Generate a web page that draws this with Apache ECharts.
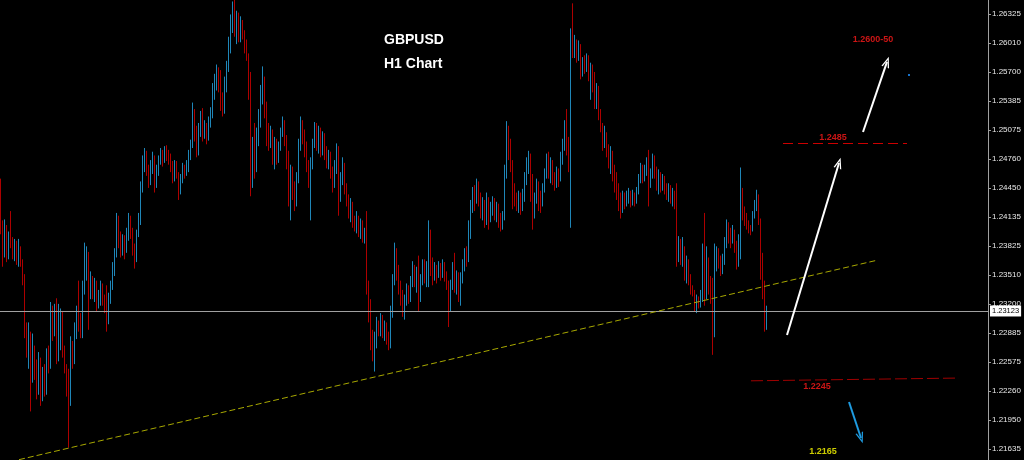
<!DOCTYPE html>
<html>
<head>
<meta charset="utf-8">
<title>GBPUSD H1</title>
<script src="https://cdn.jsdelivr.net/npm/echarts@6/dist/echarts.min.js"></script>
<style>
  html, body { margin: 0; padding: 0; background: #000; }
  #chart { width: 1024px; height: 460px; }
</style>
</head>
<body>
<div id="chart"></div>
<script>
// H1 bars, prices in pips (x 0.0001).
// open of every bar = close of the bar before it
const firstOpen = 12445
const closes = [
  12405,12385,12400,12375,12390,12385,12375,12385,12372,12380,
  12368,12350,12290,12275,12290,12235,12270,12245,12230,12260,
  12225,12240,12230,12268,12255,12300,12290,12310,12262,12290,
  12300,12270,12250,12225,12215,12268,12260,12288,12310,12300,
  12290,12335,12360,12372,12330,12345,12335,12342,12318,12328,
  12338,12325,12315,12300,12325,12340,12358,12375,12400,12390,
  12378,12390,12380,12395,12412,12398,12380,12368,12395,12412,
  12445,12470,12482,12465,12450,12468,12478,12450,12462,12475,
  12482,12475,12486,12480,12478,12470,12458,12470,12460,12440,
  12455,12465,12460,12468,12480,12492,12525,12505,12490,12510,
  12520,12505,12512,12500,12518,12528,12545,12560,12572,12555,
  12540,12530,12555,12575,12598,12625,12638,12618,12630,12608,
  12625,12612,12598,12588,12560,12450,12490,12465,12500,12520,
  12545,12560,12530,12510,12495,12505,12482,12495,12478,12490,
  12505,12515,12498,12480,12450,12465,12445,12430,12455,12490,
  12515,12500,12490,12470,12455,12470,12492,12510,12495,12505,
  12490,12500,12482,12472,12480,12462,12450,12470,12488,12440,
  12455,12470,12445,12432,12420,12428,12410,12402,12412,12398,
  12405,12392,12395,12340,12320,12290,12265,12282,12300,12292,
  12305,12290,12298,12285,12275,12310,12345,12372,12360,12340,
  12328,12315,12325,12335,12328,12345,12360,12348,12355,12330,
  12345,12362,12350,12360,12398,12365,12350,12360,12352,12362,
  12355,12362,12350,12342,12318,12340,12355,12340,12350,12338,
  12348,12362,12375,12370,12395,12425,12440,12430,12448,12435,
  12420,12428,12415,12425,12412,12422,12430,12418,12425,12410,
  12405,12415,12460,12508,12495,12470,12450,12435,12428,12436,
  12425,12438,12455,12470,12480,12455,12420,12435,12448,12438,
  12428,12445,12460,12475,12462,12470,12458,12450,12462,12455,
  12478,12492,12510,12495,12480,12610,12595,12602,12590,12598,
  12570,12580,12575,12585,12568,12575,12560,12545,12550,12528,
  12510,12495,12505,12488,12475,12482,12465,12455,12445,12435,
  12425,12438,12428,12435,12440,12430,12438,12432,12442,12455,
  12468,12458,12465,12472,12450,12460,12475,12462,12452,12460,
  12448,12455,12445,12438,12445,12435,12440,12430,12370,12385,
  12372,12378,12355,12365,12348,12338,12332,12320,12325,12320,
  12330,12368,12330,12365,12345,12335,12290,12370,12378,12365,
  12360,12368,12385,12405,12395,12390,12398,12385,12370,12382,
  12440,12420,12412,12405,12402,12398,12415,12428,12435,12410,
  12370,12340,12300,12312.3
]
const highs = [
  12455,12410,12411,12405,12398,12420,12392,12390,12388,12390,
  12382,12368,12352,12300,12300,12264,12288,12275,12260,12268,
  12262,12252,12255,12272,12275,12322,12318,12320,12326,12320,
  12315,12312,12275,12255,12250,12285,12280,12300,12318,12345,
  12310,12345,12386,12382,12376,12355,12350,12348,12345,12335,
  12345,12342,12330,12340,12332,12345,12365,12380,12418,12415,
  12398,12395,12394,12402,12418,12415,12402,12385,12400,12418,
  12452,12480,12488,12485,12470,12475,12484,12480,12470,12480,
  12488,12486,12490,12491,12486,12482,12474,12475,12474,12462,
  12460,12472,12470,12475,12486,12497,12537,12530,12512,12515,
  12528,12531,12518,12515,12522,12532,12558,12568,12578,12575,
  12572,12548,12565,12582,12608,12632,12646,12648,12636,12634,
  12630,12626,12615,12605,12590,12570,12500,12515,12510,12530,
  12556,12576,12565,12538,12515,12512,12508,12500,12498,12495,
  12510,12522,12518,12502,12485,12470,12468,12452,12462,12498,
  12522,12518,12508,12495,12475,12478,12498,12516,12515,12512,
  12510,12506,12504,12490,12486,12484,12468,12475,12493,12490,
  12462,12478,12472,12450,12438,12434,12430,12415,12420,12415,
  12412,12410,12402,12420,12345,12325,12292,12290,12306,12302,
  12310,12308,12302,12300,12290,12318,12352,12386,12380,12362,
  12345,12335,12330,12342,12340,12350,12366,12362,12360,12372,
  12352,12368,12368,12366,12410,12400,12370,12365,12362,12366,
  12364,12368,12365,12355,12345,12346,12365,12375,12356,12354,
  12354,12368,12380,12382,12410,12432,12446,12448,12455,12452,
  12440,12435,12432,12440,12435,12430,12436,12434,12430,12428,
  12418,12420,12470,12517,12512,12498,12475,12448,12440,12442,
  12440,12444,12462,12478,12485,12482,12460,12440,12455,12452,
  12442,12450,12466,12482,12484,12478,12475,12462,12468,12466,
  12484,12498,12518,12530,12500,12617,12644,12610,12605,12604,
  12600,12586,12588,12590,12588,12580,12578,12570,12558,12555,
  12530,12515,12512,12505,12492,12490,12485,12470,12462,12450,
  12440,12442,12440,12442,12445,12442,12443,12440,12446,12460,
  12472,12470,12470,12478,12486,12466,12482,12480,12468,12465,
  12462,12460,12458,12450,12450,12448,12445,12442,12450,12393,
  12390,12392,12382,12372,12368,12352,12340,12335,12330,12328,
  12335,12385,12418,12382,12370,12350,12348,12385,12382,12380,
  12372,12374,12392,12411,12408,12402,12405,12400,12388,12395,
  12467,12445,12425,12418,12410,12405,12420,12432,12443,12438,
  12412,12375,12345,12318
]
const lows = [
  12395,12360,12370,12365,12368,12380,12368,12366,12362,12360,
  12360,12340,12283,12262,12250,12204,12236,12238,12217,12222,
  12210,12215,12220,12222,12245,12250,12280,12285,12255,12258,
  12270,12262,12245,12220,12165,12210,12250,12255,12282,12290,
  12283,12283,12330,12345,12292,12325,12325,12322,12312,12315,
  12318,12318,12310,12290,12298,12320,12335,12350,12370,12380,
  12370,12372,12368,12375,12388,12390,12372,12358,12365,12392,
  12405,12440,12462,12458,12445,12448,12460,12440,12445,12458,
  12470,12468,12472,12474,12470,12462,12450,12452,12455,12432,
  12438,12450,12455,12458,12462,12475,12488,12495,12478,12480,
  12500,12495,12498,12492,12496,12510,12520,12540,12550,12548,
  12528,12522,12525,12548,12570,12590,12612,12608,12600,12602,
  12602,12605,12590,12582,12540,12436,12445,12455,12462,12490,
  12510,12535,12520,12490,12485,12488,12470,12465,12470,12472,
  12485,12500,12490,12465,12425,12410,12432,12420,12425,12450,
  12485,12492,12478,12462,12445,12410,12465,12488,12485,12482,
  12478,12480,12475,12466,12465,12455,12440,12445,12460,12415,
  12430,12448,12438,12425,12412,12408,12402,12398,12396,12392,
  12390,12386,12385,12330,12300,12270,12258,12247,12272,12285,
  12285,12283,12280,12276,12270,12272,12305,12340,12345,12330,
  12318,12306,12303,12318,12320,12322,12338,12338,12332,12312,
  12322,12340,12342,12338,12338,12350,12340,12345,12342,12348,
  12345,12348,12344,12335,12295,12312,12335,12332,12330,12322,
  12318,12342,12355,12360,12365,12390,12418,12420,12428,12425,
  12412,12410,12402,12405,12400,12408,12415,12410,12408,12402,
  12398,12400,12410,12455,12475,12462,12422,12425,12420,12418,
  12416,12420,12430,12448,12460,12430,12400,12412,12428,12420,
  12418,12425,12440,12455,12455,12450,12448,12442,12445,12446,
  12452,12470,12485,12480,12462,12402,12585,12585,12580,12582,
  12562,12565,12568,12570,12560,12540,12548,12530,12530,12518,
  12505,12485,12488,12478,12466,12460,12452,12440,12432,12420,
  12412,12418,12422,12425,12428,12424,12426,12425,12428,12438,
  12450,12450,12452,12458,12425,12445,12455,12455,12442,12438,
  12440,12442,12438,12432,12430,12428,12425,12422,12360,12365,
  12362,12360,12345,12342,12340,12330,12328,12312,12310,12315,
  12316,12322,12318,12325,12330,12320,12265,12284,12355,12358,
  12350,12352,12362,12380,12385,12380,12385,12375,12357,12360,
  12368,12410,12404,12400,12396,12394,12398,12412,12420,12405,
  12346,12325,12290,12292
]

const slotCount = 494          // bars plus the empty shift area on the right
const priceMin = 1.215164
const priceMax = 1.264759
const tickLabels = [
  '1.21635', '1.21950', '1.22260', '1.22575', '1.22885', '1.23200', '1.23510', '1.23825',
  '1.24135', '1.24450', '1.24760', '1.25075', '1.25385', '1.25700', '1.26010', '1.26325',
]
const lastPrice = '1.23123'

// drawn objects, as [bar index, price]
const trendLine = [[9, 1.2152], [438, 1.2367]]
const upperLevel = [[391, 1.24934], [453, 1.24934]]
const lowerLevel = [[375, 1.2237], [479, 1.2240]]
const arrowUp1 = [[393, 1.22864], [419, 1.24719]]
const arrowUp2 = [[431, 1.25053], [443, 1.25808]]
const arrowDown = [[424, 1.22142], [430, 1.21754]]
const blueDot = [454, 1.25667]

const noteTexts = ['1.2600-50', '1.2485', '1.2245', '1.2165']
const notePoints = [[436, 1.26045], [416, 1.24988], [408, 1.22314], [411, 1.21613]]

// ---------------------------------------------------------------
const FONT = '"Liberation Sans", Arial, sans-serif'
const UP = '#1f86b8'
const DOWN = '#ad0000'
const noteColors = ['#ff1a1a', '#ff1a1a', '#ff1a1a', '#ffff00']

const slots = Array.from({ length: slotCount }, (_, i) => String(i))
const tickValues = tickLabels.map(Number)

const candles = closes.map((c, i) => {
  const o = i === 0 ? firstOpen : closes[i - 1]
  const hi = Math.max(highs[i], o, c)
  const lo = Math.min(lows[i], o, c)
  return [o, c, lo, hi].map(v => v / 10000)
})

const chevron = 'path://M0,12 L5,0 L10,12 L8.3,12 L5,3.8 L1.7,12 Z'

function segment(pts, lineStyle, withHead) {
  return [
    { coord: pts[0], symbol: 'none', lineStyle },
    { coord: pts[1], symbol: withHead ? chevron : 'none', symbolSize: [8, 11] },
  ]
}

const chart = echarts.init(document.getElementById('chart'))

chart.setOption({
  backgroundColor: '#000000',
  animation: false,
  title: {
    text: 'GBPUSD',
    subtext: 'H1 Chart',
    left: 384,
    top: 33,
    itemGap: 10,
    padding: 0,
    textStyle: { color: '#ffffff', fontSize: 14, fontWeight: 'bold', fontFamily: FONT },
    subtextStyle: { color: '#ffffff', fontSize: 14, fontWeight: 'bold', fontFamily: FONT },
  },
  grid: { left: 0, right: 36, top: 0, bottom: 0, outerBoundsMode: 'none' },
  xAxis: {
    type: 'category',
    data: slots,
    show: false,
  },
  yAxis: {
    type: 'value',
    position: 'right',
    min: priceMin,
    max: priceMax,
    axisLine: { show: true, lineStyle: { color: '#a0a0a0', width: 1 } },
    axisTick: { show: true, length: 3, customValues: tickValues, lineStyle: { color: '#a0a0a0' } },
    axisLabel: {
      customValues: tickValues,
      formatter: v => v.toFixed(5),
      margin: 4,
      color: '#e8e8e8',
      fontSize: 8,
      fontFamily: FONT,
    },
    splitLine: { show: false },
  },
  series: [
    {
      name: 'GBPUSD',
      type: 'candlestick',
      data: candles,
      barWidth: 1,
      itemStyle: {
        color: UP, color0: DOWN, borderColor: UP, borderColor0: DOWN, borderWidth: 1,
      },
      markLine: {
        silent: true,
        precision: 5,
        symbol: ['none', 'none'],
        label: { show: false },
        data: [
          {
            yAxis: Number(lastPrice),
            lineStyle: { color: '#a0a0a0', type: 'solid', width: 1 },
            label: {
              show: true,
              position: 'end',
              formatter: lastPrice,
              distance: 2,
              color: '#000000',
              backgroundColor: '#ffffff',
              padding: [2, 2, 1, 2],
              fontSize: 7.5,
              fontFamily: FONT,
            },
          },
          segment(trendLine, { color: '#a8a800', width: 1, type: [6, 3] }, false),
          segment(upperLevel, { color: '#cc0000', width: 1, type: [10, 5] }, false),
          segment(lowerLevel, { color: '#a00000', width: 1, type: [12, 4] }, false),
          segment(arrowUp1, { color: '#ffffff', width: 2, type: 'solid' }, true),
          segment(arrowUp2, { color: '#ffffff', width: 2, type: 'solid' }, true),
          segment(arrowDown, { color: '#1e9be0', width: 2, type: 'solid' }, true),
        ],
      },
    },
    {
      name: 'notes',
      type: 'scatter',
      silent: true,
      symbolSize: 1,
      itemStyle: { color: 'rgba(0,0,0,0)' },
      data: notePoints.map((p, k) => ({
        value: p,
        label: { color: noteColors[k] },
      })),
      label: {
        show: true,
        position: 'inside',
        formatter: p => noteTexts[p.dataIndex],
        fontSize: 9,
        fontWeight: 'bold',
        fontFamily: FONT,
      },
    },
    {
      name: 'dot',
      type: 'scatter',
      silent: true,
      symbol: 'rect',
      symbolSize: [2, 2],
      itemStyle: { color: '#1e90ff' },
      data: [blueDot],
    },
  ],
})
</script>
</body>
</html>
